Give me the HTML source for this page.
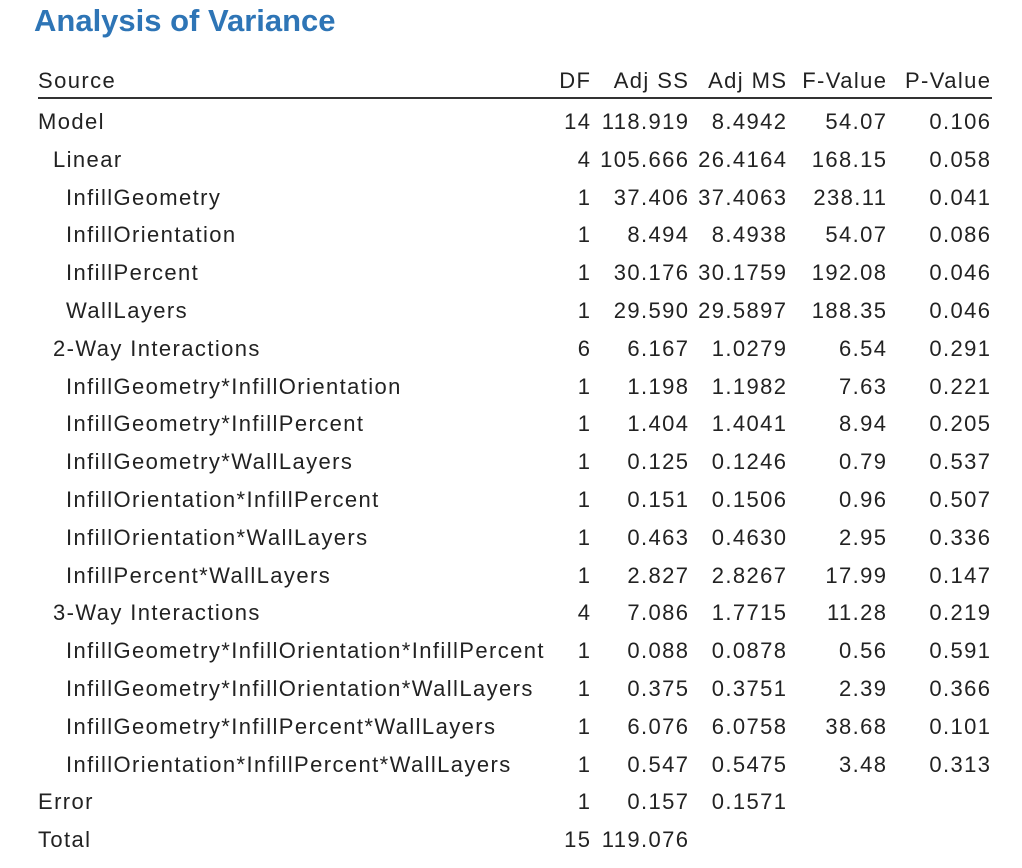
<!DOCTYPE html>
<html><head><meta charset="utf-8"><style>
body{margin:0;width:1022px;height:868px;background:#fff;font-family:"Liberation Sans",sans-serif;color:#222;position:relative;overflow:hidden}
#title{position:absolute;left:34px;top:3px;font-size:31px;font-weight:bold;color:#2e75b6;white-space:nowrap}
.r{position:absolute;left:0;width:1022px;height:30px;font-size:22px;line-height:30px;letter-spacing:1.4px}
.c{position:absolute;top:0;white-space:nowrap}
.n{text-align:right;margin-right:-1.4px}
#hline{position:absolute;left:38px;top:97px;width:954px;height:2px;background:#333}
</style></head><body>
<div id="title">Analysis of Variance</div>
<div id="hline"></div>
<div id="t"></div>
<script>
const sources=["Model","Linear","InfillGeometry","InfillOrientation","InfillPercent","WallLayers","2-Way Interactions","InfillGeometry*InfillOrientation","InfillGeometry*InfillPercent","InfillGeometry*WallLayers","InfillOrientation*InfillPercent","InfillOrientation*WallLayers","InfillPercent*WallLayers","3-Way Interactions","InfillGeometry*InfillOrientation*InfillPercent","InfillGeometry*InfillOrientation*WallLayers","InfillGeometry*InfillPercent*WallLayers","InfillOrientation*InfillPercent*WallLayers","Error","Total"];
const levels=[0,1,2,2,2,2,1,2,2,2,2,2,2,1,2,2,2,2,0,0];
const df=["14","4","1","1","1","1","6","1","1","1","1","1","1","4","1","1","1","1","1","15"];
const adjSS=["118.919","105.666","37.406","8.494","30.176","29.590","6.167","1.198","1.404","0.125","0.151","0.463","2.827","7.086","0.088","0.375","6.076","0.547","0.157","119.076"];
const adjMS=["8.4942","26.4164","37.4063","8.4938","30.1759","29.5897","1.0279","1.1982","1.4041","0.1246","0.1506","0.4630","2.8267","1.7715","0.0878","0.3751","6.0758","0.5475","0.1571",""];
const fval=["54.07","168.15","238.11","54.07","192.08","188.35","6.54","7.63","8.94","0.79","0.96","2.95","17.99","11.28","0.56","2.39","38.68","3.48","",""];
const pval=["0.106","0.058","0.041","0.086","0.046","0.046","0.291","0.221","0.205","0.537","0.507","0.336","0.147","0.219","0.591","0.366","0.101","0.313","",""];
const t=document.getElementById('t');
const rights=[590,688,786,886,990];
function row(y,src,lvl,vals,isHead){
  const r=document.createElement('div');r.className='r';r.style.top=(y-15)+'px';
  
  
  const s=document.createElement('div');s.className='c';s.style.left=(38+[0,15,28][lvl])+'px';s.textContent=src;
  
  
  r.appendChild(s);
  vals.forEach((v,i)=>{const c=document.createElement('div');c.className='c n';c.style.right=(1022-rights[i])+'px';c.textContent=v;
    
    
    r.appendChild(c);});
  t.appendChild(r);
}
row(81,"Source",0,["DF","Adj SS","Adj MS","F-Value","P-Value"],true);
sources.forEach((s,i)=>row(122+i*37.8,s,levels[i],[df[i],adjSS[i],adjMS[i],fval[i],pval[i]],false));
</script>
</body></html>
